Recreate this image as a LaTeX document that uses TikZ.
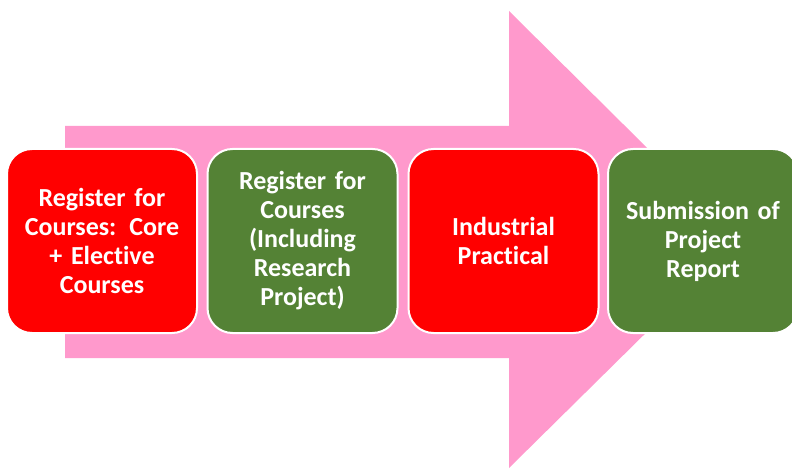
\documentclass[tikz,border=0pt]{standalone}
\usepackage{fontspec}
\setmainfont{Carlito}[Ligatures=NoCommon]
\newcommand{\nl}{\kern0pt}
\definecolor{boxred}{RGB}{255,0,0}
\definecolor{boxgreen}{RGB}{84,130,53}
\definecolor{arrowpink}{RGB}{255,153,204}
\begin{document}
\begin{tikzpicture}[x=1pt,y=1pt,
  stepbox/.style={draw=white, line width=2pt, rounded corners=25pt,
    minimum width=190pt, minimum height=184pt, align=center, text=white,
    font=\fontsize{26}{29}\selectfont\bfseries, text width=180pt, inner sep=0pt}]
\useasboundingbox (0,0) rectangle (792,469);
\clip (0,0) rectangle (792,469);
% big arrow (y = 469 - pixel y)
\fill[arrowpink] (65,343) -- (509,343) -- (509,458) -- (740,229) -- (509,1) -- (509,111) -- (65,111) -- cycle;
\node[stepbox, fill=boxred] (s1) at (102,228) {Register for\\Courses: Core\\+ Elect\nl ive\\Courses};
\node[stepbox, fill=boxgreen] (s2) at (302.5,228) {Register for\\Courses\\(Including\\Research\\Project)};
\node[stepbox, fill=boxred] (s3) at (503.5,228) {Industrial\\Pract\nl ical};
\node[stepbox, fill=boxgreen] (s4) at (703,228) {Submission of\\Project\\Report};
\end{tikzpicture}
\end{document}
